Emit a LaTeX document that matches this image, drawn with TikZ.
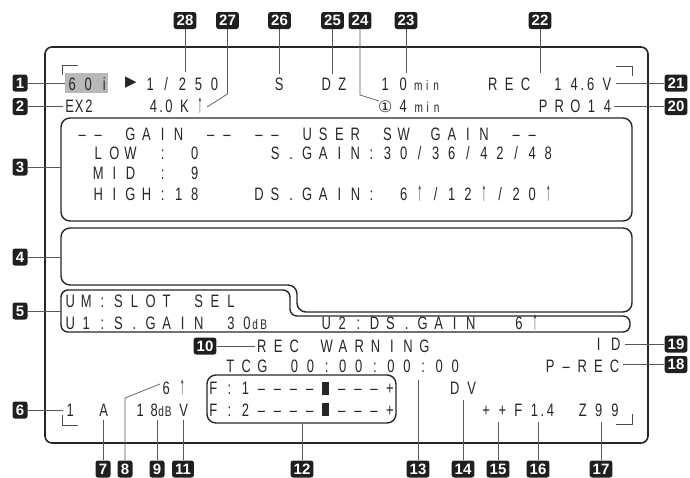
\documentclass[tikz,border=0pt]{standalone}
\usepackage{fontspec}
\usepackage{graphicx}
\usepackage{tikz}
\newfontfamily\lcdfont[FakeStretch=0.72]{Liberation Sans}
\newfontfamily\badgefont{Liberation Sans}
\newfontfamily\symfont{DejaVu Sans}

% characters of the display sit on a fixed pitch
\newlength\lcdpitch
\newcommand\lcd[2][16.07pt]{\setlength\lcdpitch{#1}\lcdloop#2\lcdstop}
\let\lcdstop\relax
\newcommand\dt{.}
\def\lcdstopmark{\lcdstop}
\def\lcddotmark{\dt}
\def\lcdloop#1{\def\lcdarg{#1}%
  \ifx\lcdarg\lcdstopmark
  \else
    \ifx\lcdarg\lcddotmark\makebox[0pt]{.}\else\makebox[\lcdpitch]{#1}\fi
    \expandafter\lcdloop
  \fi}
\newcommand\lcdsmall{\fontsize{14}{14}\selectfont}
\newcommand\up{\scalebox{0.75}[1.45]{↑}}
\newcommand\blk{\rule{6.5pt}{13pt}}

\begin{document}
\begin{tikzpicture}[
  x=1pt, y=-1pt,
  lcd/.style={anchor=base west, inner sep=0pt, text=black!85,
              font=\lcdfont\fontsize{18}{18}\selectfont},
  badge/.style={fill=black!88, text=white, rounded corners=2.5pt, inner xsep=3pt,
              inner ysep=0pt, minimum height=17pt, minimum width=15pt,
              font=\badgefont\bfseries\fontsize{15}{15}\selectfont},
  leader/.style={draw=black!65, line width=0.7pt},
  frame/.style={draw=black!85, line width=1.6pt, rounded corners=7pt},
  panel/.style={draw=black!85, line width=1.4pt, rounded corners=9pt},
  cornermark/.style={draw=black!70, line width=0.8pt}
]
\useasboundingbox (0,0) rectangle (690,477);

% screen and panels
\draw[frame] (45,47) rectangle (648,443);
\draw[panel] (61,118) rectangle (632,221);
\draw[panel] (61,228) -- (632,228) -- (632,312) -- (297,312) -- (297,285) -- (61,285) -- cycle;
\draw[panel, rounded corners=7pt] (61,290) -- (290,290) -- (290,316) -- (630,316) -- (630,332) -- (61,332) -- cycle;
\draw[panel] (207,375) rectangle (396,423);

% corner marks
\draw[cornermark] (62,75) -- (62,65) -- (78,65);
\draw[cornermark] (616,66) -- (632,66) -- (632,76);
\draw[cornermark] (62,415) -- (62,425) -- (78,425);
\draw[cornermark] (632,414) -- (632,424) -- (616,424);

% top rows
\node[fill=black!28, minimum width=43pt, minimum height=20pt, inner sep=0pt] (hl) at (86.5,83) {};
\node[lcd] (rate) at (64,90) {\lcd{60i}};
\node[inner sep=0pt, text=black!85, font=\symfont\fontsize{15}{15}\selectfont] (play) at (131,83) {▶};
\node[lcd] (shutter) at (142,90) {\lcd{1/250}};
\node[lcd] (ssel) at (271,90) {\lcd{S}};
\node[lcd] (dzoom) at (318,90) {\lcd{DZ}};
\node[lcd] (recmin) at (376,90) {\lcd[18pt]{10}\hspace{1.5pt}{\lcdsmall\lcd[9pt]{min}}};
\node[lcd] (batt) at (484.5,90) {\lcd[16.3pt]{REC~14\dt6V}};

\node[lcd] (ext) at (64.5,112.5) {\lcd[9.75pt]{EX2}};
\node[lcd] (wbal) at (145.5,112.5) {\lcd[15.5pt]{4\dt0K\up}};
\node[lcd] (battmin) at (378,112.5) {\makebox[14pt]{\symfont\fontsize{16}{16}\selectfont ①}\hspace{3pt}\lcd[16pt]{4}\hspace{3pt}{\lcdsmall\lcd[9pt]{min}}};
\node[lcd] (pro) at (535,112.5) {\lcd{PRO14}};

% gain panel
\node[lcd] (gainhead) at (74,140) {\lcd{––~GAIN~––~––~USER~SW~GAIN~––}};
\node[lcd] (gainlow) at (74,159.5) {\lcd{~LOW~:~0~~~~S.GAIN:30/36/42/48}};
\node[lcd] (gainmid) at (74,179.5) {\lcd{~MID~:~9}};
\node[lcd] (gainhigh) at (74,200) {\lcd{~HIGH:18~~~DS.GAIN:~6\up/12\up/20\up}};

% user panel
\node[lcd] (slot) at (62,307.5) {\lcd{UM:SLOT~SEL}};
\node[lcd] (uone) at (62,329) {\lcd{U1:S.GAIN~30}\hspace{-4pt}{\lcdsmall\lcd[8.5pt]{dB}}};
\node[lcd] (utwo) at (318,329) {\lcd{U2:DS.GAIN~~6\up}};

% lower rows
\node[lcd] (warn) at (253.5,352.5) {\lcd[16.25pt]{REC~WARNING}};
\node[lcd] (ident) at (590,350) {\lcd[17pt]{ID}};
\node[lcd] (tcg) at (222,372) {\lcd{TCG~00:00:00:00}};
\node[lcd] (prec) at (542,372) {\lcd{P–REC}};
\node[lcd] (fone) at (205,394.5) {\lcd{F:1––––\blk–––+}};
\node[lcd] (ftwo) at (205,416) {\lcd{F:2––––\blk–––+}};
\node[lcd] (gainup) at (158,394) {\lcd{6\up}};
\node[lcd] (chan) at (62,416) {\lcd{1}};
\node[lcd] (audio) at (95.5,416) {\lcd{A}};
\node[lcd] (gaindb) at (133,416) {\lcd[14pt]{18}\hspace{-3.5pt}{\lcdsmall\lcd[7pt]{dB}}};
\node[lcd] (vmark) at (175.5,416) {\lcd{V}};
\node[lcd] (dv) at (446,394) {\lcd[17pt]{DV}};
\node[lcd] (iris) at (478,416) {\lcd{++F1\dt4}};
\node[lcd] (zpos) at (574.5,416) {\lcd{Z99}};

% callout badges
\node[badge] (b1) at (20,83) {1};
\node[badge] (b2) at (20,106.5) {2};
\node[badge] (b3) at (20,167) {3};
\node[badge] (b4) at (20,257) {4};
\node[badge] (b5) at (20,311) {5};
\node[badge] (b6) at (20,410) {6};
\node[badge] (b7) at (103,469) {7};
\node[badge] (b8) at (125,469) {8};
\node[badge] (b9) at (157,469) {9};
\node[badge] (b10) at (205,346) {10};
\node[badge] (b11) at (183,469) {11};
\node[badge] (b12) at (302,469) {12};
\node[badge] (b13) at (418,469) {13};
\node[badge] (b14) at (463,469) {14};
\node[badge] (b15) at (498,469) {15};
\node[badge] (b16) at (538,469) {16};
\node[badge] (b17) at (601,469) {17};
\node[badge] (b18) at (676,364.5) {18};
\node[badge] (b19) at (676,344) {19};
\node[badge] (b20) at (676,106.5) {20};
\node[badge] (b21) at (676,83) {21};
\node[badge] (b22) at (540,20.5) {22};
\node[badge] (b23) at (406,20.5) {23};
\node[badge] (b24) at (360,20.5) {24};
\node[badge] (b25) at (332.5,20.5) {25};
\node[badge] (b26) at (279.5,20.5) {26};
\node[badge] (b27) at (227.5,20.5) {27};
\node[badge] (b28) at (185,20.5) {28};

% leader ends
\coordinate (e2) at (63,106.5);
\coordinate (e3) at (61,167);
\coordinate (e4) at (61,257);
\coordinate (e5) at (61,311);
\coordinate (e6) at (63,410);
\coordinate (e7) at (103,420);
\coordinate (k8) at (125,398);
\coordinate (e8) at (160,384);
\coordinate (e9) at (157,420);
\coordinate (e10) at (255,346);
\coordinate (e11) at (183,420);
\coordinate (e12) at (302,423);
\coordinate (e13) at (418,380);
\coordinate (e14) at (463,400);
\coordinate (e15) at (498,422);
\coordinate (e16) at (538,422);
\coordinate (e17) at (601,422);
\coordinate (e18) at (623,364.5);
\coordinate (e19) at (625,344);
\coordinate (e20) at (614,106.5);
\coordinate (e21) at (616,83);
\coordinate (e22) at (540,73);
\coordinate (e23) at (406,73);
\coordinate (k24) at (360,95);
\coordinate (e24) at (379,101);
\coordinate (e25) at (332.5,74);
\coordinate (e26) at (279.5,74);
\coordinate (k27) at (227.5,94);
\coordinate (e27) at (207,107);
\coordinate (e28) at (185,72);

% leaders
\draw[leader] (b1) -- (hl.west);
\draw[leader] (b2) -- (e2);
\draw[leader] (b3) -- (e3);
\draw[leader] (b4) -- (e4);
\draw[leader] (b5) -- (e5);
\draw[leader] (b6) -- (e6);
\draw[leader] (b7) -- (e7);
\draw[leader] (b8) -- (k8) -- (e8);
\draw[leader] (b9) -- (e9);
\draw[leader] (b10) -- (e10);
\draw[leader] (b11) -- (e11);
\draw[leader] (b12) -- (e12);
\draw[leader] (b13) -- (e13);
\draw[leader] (b14) -- (e14);
\draw[leader] (b15) -- (e15);
\draw[leader] (b16) -- (e16);
\draw[leader] (b17) -- (e17);
\draw[leader] (b18) -- (e18);
\draw[leader] (b19) -- (e19);
\draw[leader] (b20) -- (e20);
\draw[leader] (b21) -- (e21);
\draw[leader] (b22) -- (e22);
\draw[leader] (b23) -- (e23);
\draw[leader] (b24) -- (k24) -- (e24);
\draw[leader] (b25) -- (e25);
\draw[leader] (b26) -- (e26);
\draw[leader] (b27) -- (k27) -- (e27);
\draw[leader] (b28) -- (e28);
\end{tikzpicture}
\end{document}
